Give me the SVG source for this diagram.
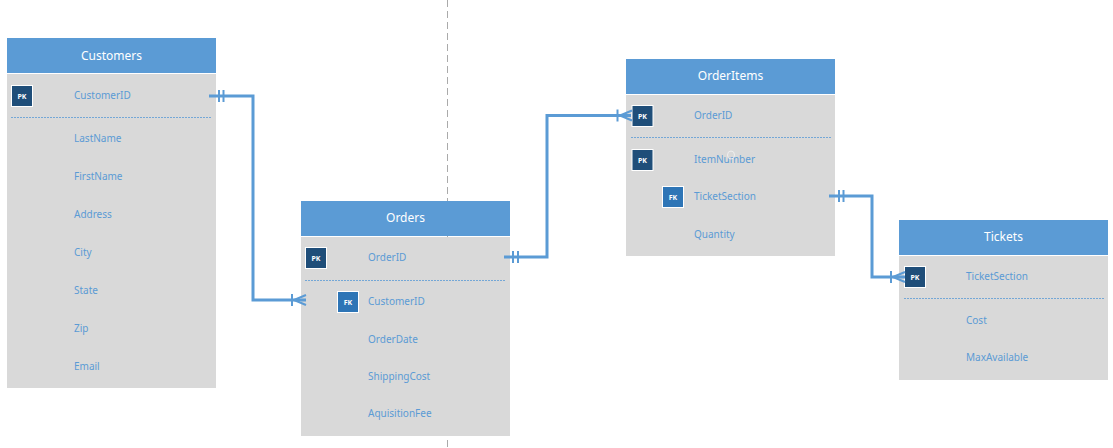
<svg xmlns="http://www.w3.org/2000/svg" width="1113" height="448" viewBox="0 0 1113 448">
<style>
.hdr{fill:#5B9BD5}
.body{fill:#D9D9D9}
.title{font-family:"Noto Sans","Open Sans",sans-serif;font-size:12px;fill:#FFFFFF;text-anchor:middle}
.fld{font-family:"Noto Sans","Open Sans",sans-serif;font-size:10px;fill:#5B9BD5}
.sep{stroke:#5B9BD5;stroke-width:0.8;stroke-dasharray:2 1;fill:none}
.pk{fill:#1F4E79;stroke:#FFFFFF;stroke-width:1}
.fk{fill:#2E75B6;stroke:#FFFFFF;stroke-width:1}
.key{font-family:"Noto Sans","Open Sans",sans-serif;font-size:7px;font-weight:bold;fill:#FFFFFF;text-anchor:middle}
.conn{stroke:#5B9BD5;stroke-width:3;fill:none}
.tick{stroke:#5B9BD5;stroke-width:2;fill:none}
.guide{stroke:#AAAAAA;stroke-width:1;stroke-dasharray:7 4;fill:none}
</style>
<rect width="1113" height="448" fill="#FFFFFF"/>
<line class="guide" x1="447.5" y1="0" x2="447.5" y2="448"/>

<g id="customers">
<rect class="hdr" x="7" y="38" width="209" height="35"/>
<rect class="body" x="7" y="74" width="209" height="314"/>
<text class="title" x="111.5" y="60">Customers</text>
<rect class="pk" x="11.5" y="85.5" width="21" height="21"/>
<text class="key" x="22" y="98.5">PK</text>
<text class="fld" x="74" y="99">CustomerID</text>
<line class="sep" x1="11" y1="117.5" x2="212" y2="117.5"/>
<text class="fld" x="74" y="142">LastName</text>
<text class="fld" x="74" y="180">FirstName</text>
<text class="fld" x="74" y="218">Address</text>
<text class="fld" x="74" y="256">City</text>
<text class="fld" x="74" y="294">State</text>
<text class="fld" x="74" y="332">Zip</text>
<text class="fld" x="74" y="370">Email</text>
</g>

<g id="orders">
<rect class="hdr" x="301" y="201" width="209" height="35"/>
<rect class="body" x="301" y="237" width="209" height="199"/>
<text class="title" x="405.5" y="222">Orders</text>
<rect class="pk" x="305.5" y="247.5" width="21" height="21"/>
<text class="key" x="316" y="260.5">PK</text>
<text class="fld" x="368" y="261">OrderID</text>
<line class="sep" x1="305" y1="280.5" x2="506" y2="280.5"/>
<rect class="fk" x="337.5" y="291.5" width="21" height="21"/>
<text class="key" x="348" y="304.5">FK</text>
<text class="fld" x="368" y="305">CustomerID</text>
<text class="fld" x="368" y="343">OrderDate</text>
<text class="fld" x="368" y="380">ShippingCost</text>
<text class="fld" x="368" y="417">AquisitionFee</text>
</g>

<g id="orderitems">
<rect class="hdr" x="626" y="59" width="209" height="35"/>
<rect class="body" x="626" y="95" width="209" height="161"/>
<text class="title" x="730.5" y="80">OrderItems</text>
<rect class="pk" x="632" y="105.5" width="21" height="21"/>
<text class="key" x="642.5" y="118.5">PK</text>
<text class="fld" x="694" y="119">OrderID</text>
<line class="sep" x1="631" y1="137.5" x2="831" y2="137.5"/>
<rect class="pk" x="632" y="149.5" width="21" height="21"/>
<text class="key" x="642.5" y="162.5">PK</text>
<text class="fld" x="694" y="163">ItemNumber</text>
<ellipse cx="731" cy="155" rx="3.5" ry="4" fill="none" stroke="#EFEFEF" stroke-width="1"/>
<rect class="fk" x="662.5" y="186.5" width="21" height="21"/>
<text class="key" x="673" y="199.5">FK</text>
<text class="fld" x="694" y="200">TicketSection</text>
<text class="fld" x="694" y="238">Quantity</text>
</g>

<g id="tickets">
<rect class="hdr" x="899" y="220" width="209" height="35"/>
<rect class="body" x="899" y="256" width="209" height="124"/>
<text class="title" x="1003.5" y="241">Tickets</text>
<rect class="pk" x="904.5" y="266.5" width="21" height="21"/>
<text class="key" x="915" y="279.5">PK</text>
<text class="fld" x="966" y="280">TicketSection</text>
<line class="sep" x1="904" y1="298.5" x2="1104" y2="298.5"/>
<text class="fld" x="966" y="324">Cost</text>
<text class="fld" x="966" y="361">MaxAvailable</text>
</g>

<g id="connectors">
<path class="conn" d="M209,96 H253 V300 H306"/>
<line class="tick" x1="219" y1="90" x2="219" y2="102"/>
<line class="tick" x1="223.5" y1="90" x2="223.5" y2="102"/>
<line class="tick" x1="292" y1="294" x2="292" y2="306"/>
<path class="tick" d="M294,300 L306,295 M294,300 L306,305"/>

<path class="conn" d="M504,257 H547 V115.5 H631"/>
<line class="tick" x1="513" y1="251" x2="513" y2="263"/>
<line class="tick" x1="518" y1="251" x2="518" y2="263"/>
<line class="tick" x1="617.5" y1="109.5" x2="617.5" y2="121.5"/>
<path class="tick" d="M620,115.5 L632,110.5 M620,115.5 L632,120.5"/>

<path class="conn" d="M829,196 H872 V277 H905"/>
<line class="tick" x1="839" y1="190" x2="839" y2="202"/>
<line class="tick" x1="843.5" y1="190" x2="843.5" y2="202"/>
<line class="tick" x1="891" y1="271" x2="891" y2="283"/>
<path class="tick" d="M893,277 L905,272 M893,277 L905,282"/>
</g>
</svg>
